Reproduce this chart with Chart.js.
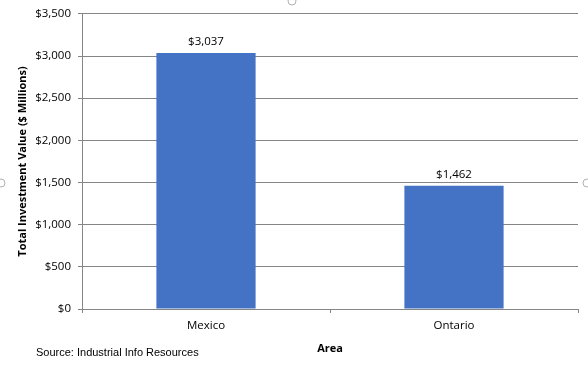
<!DOCTYPE html>
<html>
<head>
<meta charset="utf-8">
<script src="https://cdn.jsdelivr.net/npm/chart.js@4/dist/chart.umd.min.js"></script>
<style>
  html, body { margin: 0; padding: 0; background: #fff; }
  #wrap { width: 588px; height: 366px; position: relative; }
</style>
</head>
<body>
<div id="wrap"><canvas id="investChart"></canvas></div>
<script>
const areas = ['Mexico', 'Ontario'];
const investment = [3037, 1462];
const yTicks = [0, 500, 1000, 1500, 2000, 2500, 3000, 3500];
const sourceNote = 'Source: Industrial Info Resources';

const money = v => '$' + v.toLocaleString('en-US');

// labels above bars + source line + the faint selection handles
const extras = {
    id: 'extras',
    afterDatasetsDraw(chart) {
        const ctx = chart.ctx;
        const meta = chart.getDatasetMeta(0);
        ctx.save();
        ctx.fillStyle = '#000';
        ctx.font = "11.5px 'Open Sans', sans-serif";
        ctx.textAlign = 'center';
        ctx.textBaseline = 'bottom';
        meta.data.forEach((bar, i) => {
            ctx.fillText(money(investment[i]), bar.x, bar.y - 5);
        });
        ctx.restore();
    },
    afterDraw(chart) {
        const ctx = chart.ctx;
        ctx.save();
        ctx.fillStyle = '#000';
        ctx.font = "11px 'Liberation Sans', Arial, sans-serif";
        ctx.textAlign = 'left';
        ctx.textBaseline = 'middle';
        ctx.fillText(sourceNote, 36, 353);
        ctx.strokeStyle = '#b0b0b0';
        ctx.lineWidth = 1;
        [[292, 1], [1, 183], [587, 183]].forEach(p => {
            ctx.beginPath();
            ctx.arc(p[0], p[1], 4, 0, Math.PI * 2);
            ctx.stroke();
        });
        ctx.restore();
    }
};

new Chart(document.getElementById('investChart'), {
    type: 'bar',
    data: {
        labels: areas,
        datasets: [{
            data: investment,
            backgroundColor: '#4472C4',
            borderWidth: 0,
            categoryPercentage: 0.4,
            barPercentage: 1
        }]
    },
    options: {
        responsive: true,
        maintainAspectRatio: false,
        animation: false,
        layout: { padding: { top: 13, right: 10, left: 0, bottom: 0 } },
        plugins: {
            legend: { display: false },
            tooltip: { enabled: false }
        },
        scales: {
            x: {
                afterFit: s => { s.height = 57; },
                grid: {
                    drawOnChartArea: false,
                    color: '#868686',
                    tickLength: 4
                },
                border: { color: '#868686' },
                ticks: {
                    color: '#000',
                    padding: 6,
                    font: { family: "'Open Sans', sans-serif", size: 11.5 }
                },
                title: {
                    display: true,
                    text: 'Area',
                    color: '#000',
                    padding: { top: 0, bottom: 11 },
                    font: { family: "'Open Sans', sans-serif", size: 11, weight: 'bold' }
                }
            },
            y: {
                min: 0,
                max: 3500,
                afterFit: s => { s.width = 82; },
                afterBuildTicks: s => { s.ticks = yTicks.map(v => ({ value: v })); },
                grid: {
                    color: '#868686',
                    tickLength: 4
                },
                border: { color: '#868686' },
                ticks: {
                    color: '#000',
                    padding: 7,
                    font: { family: "'Open Sans', sans-serif", size: 11.5 },
                    callback: v => money(v)
                },
                title: {
                    display: true,
                    text: 'Total Investment Value ($ Millions)',
                    color: '#000',
                    padding: { top: 16, bottom: 0 },
                    font: { family: "'Open Sans', sans-serif", size: 11, weight: 'bold' }
                }
            }
        }
    },
    plugins: [extras]
});
</script>
</body>
</html>
